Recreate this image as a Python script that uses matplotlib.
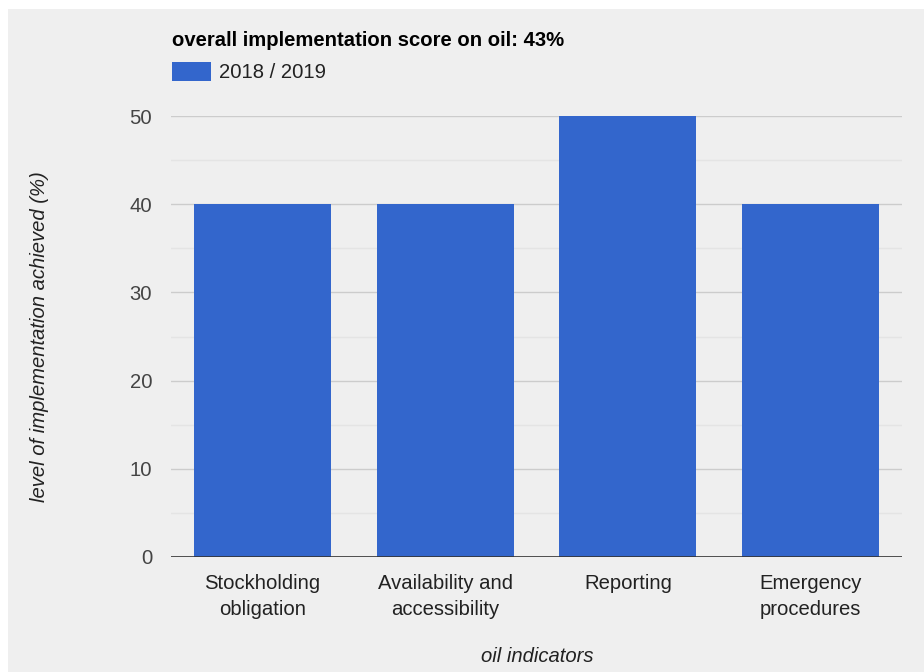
import matplotlib
matplotlib.use("Agg")
import matplotlib.pyplot as plt
from matplotlib.patches import Rectangle
import numpy as np

plt.rcParams['font.family'] = ['Liberation Sans', 'DejaVu Sans']

categories = ["Stockholding\nobligation", "Availability and\naccessibility",
              "Reporting", "Emergency\nprocedures"]
values = [40, 40, 50, 40]
series_name = "2018 / 2019"
title = "overall implementation score on oil: 43%"
y_ticks = [0, 10, 20, 30, 40, 50]

FS = 14.6
W, H = 924, 672
fig = plt.figure(figsize=(W / 100, H / 100), dpi=100)
fig.patch.set_facecolor("white")
fig.patches.append(Rectangle((8 / W, 0), 1 - 8 / W, 1 - 9 / H,
                             transform=fig.transFigure, facecolor="#efefef",
                             edgecolor="none", zorder=-10))

left, right, top, bottom = 171, 902, 116, 557
ax = fig.add_axes([left / W, 1 - bottom / H, (right - left) / W, (bottom - top) / H])
ax.set_facecolor("none")

x = np.arange(len(categories))
bar_color = "#3366cc"
ax.bar(x, values, width=0.75, color=bar_color, zorder=3)
ax.set_xlim(-0.5, len(categories) - 0.5)
ax.set_ylim(0, 50)

# gridlines: major every 10, minor halfway between
for v in np.arange(5, 50, 10):
    ax.axhline(v, color="#e4e4e4", lw=1, zorder=1)
for v in y_ticks[1:]:
    ax.axhline(v, color="#cccccc", lw=1, zorder=1)
ax.axhline(0, color="#333333", lw=1.2, zorder=4)

for s in ax.spines.values():
    s.set_visible(False)
ax.set_yticks(y_ticks)
ax.set_yticklabels([str(t) for t in y_ticks], fontsize=FS, color="#444444")
ax.tick_params(axis="y", length=0, pad=13.5)
ax.set_xticks(x)
ax.set_xticklabels(categories, fontsize=FS, color="#222222", linespacing=1.5)
ax.tick_params(axis="x", length=0, pad=12)

ax.set_ylabel("level of implementation achieved (%)", fontsize=FS,
              style="italic", color="#222222", labelpad=0)
ax.yaxis.set_label_coords((40 - left) / (right - left), 0.5)
ax.set_xlabel("oil indicators", fontsize=FS, style="italic", color="#222222")
ax.xaxis.set_label_coords((537 - left) / (right - left), -(656 - bottom) / (bottom - top))
ax.xaxis.label.set_va("center")
ax.yaxis.label.set_va("center")

fig.text(172 / W, 1 - 40 / H, title, fontsize=FS, fontweight="bold",
         color="#000000", va="center", ha="left")
fig.patches.append(Rectangle((172 / W, 1 - 81 / H), 39 / W, 19 / H,
                             transform=fig.transFigure, facecolor=bar_color,
                             edgecolor="none"))
fig.text(219 / W, 1 - 72 / H, series_name, fontsize=FS, color="#222222",
         va="center", ha="left")

fig.savefig("out.png", dpi=100)
